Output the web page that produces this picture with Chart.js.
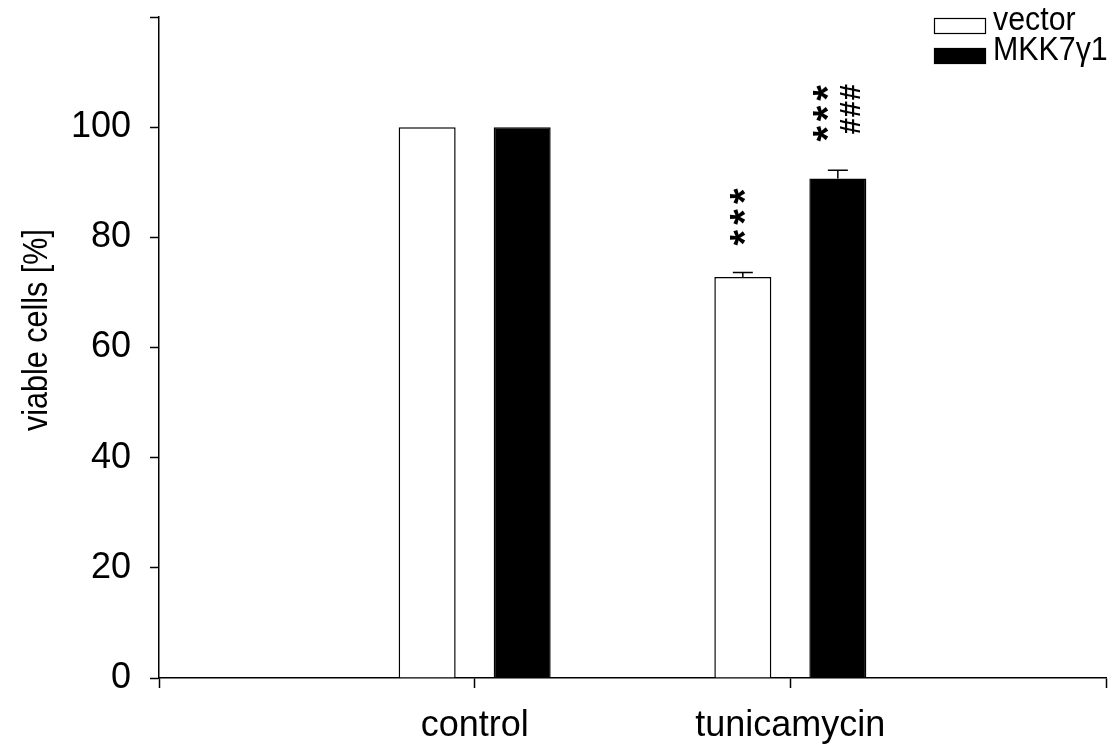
<!DOCTYPE html>
<html>
<head>
<meta charset="utf-8">
<script src="https://cdn.jsdelivr.net/npm/chart.js@4/dist/chart.umd.min.js"></script>
<style>
  html, body { margin: 0; padding: 0; background: #ffffff; }
  #wrap { width: 1115px; height: 746px; }
</style>
</head>
<body>
<div id="wrap"><canvas id="c" width="1115" height="746"></canvas></div>
<script>
// Groups on the x axis; the empty entries pad the axis ends.
const categories = ['', 'control', 'tunicamycin', ''];

// Viable cells (% of control) for each cell line.
const vectorValues = [null, 100, 72.8, null];
const mkkValues = [null, 100, 90.7, null];

// Upper error (SEM) for each bar.
const vectorErrors = [null, null, 0.8, null];
const mkkErrors = [null, null, 1.5, null];

// Significance marks above the bars.
const vectorMarks = ['', '', '***', ''];
const mkkMarks = ['', '', '***', ''];
const mkkVsVectorMarks = ['', '', '###', ''];

// Y axis ticks.
const yTicks = [0, 20, 40, 60, 80, 100, 120];
const yTickLabels = ['0', '20', '40', '60', '80', '100', ''];

const seriesNames = ['vector', 'MKK7\u03b31'];
const yTitle = 'viable cells [%]';

const FONT = '"Liberation Sans", Arial, Helvetica, sans-serif';

// Upward error whiskers with a cap.
const errorBars = {
  id: 'errorBars',
  afterDatasetsDraw(chart) {
    const ctx = chart.ctx;
    const y = chart.scales.y;
    chart.data.datasets.forEach((ds, di) => {
      const meta = chart.getDatasetMeta(di);
      (ds.errors || []).forEach((err, i) => {
        if (err == null || ds.data[i] == null) return;
        const bar = meta.data[i];
        const y0 = y.getPixelForValue(ds.data[i]);
        const y1 = y.getPixelForValue(ds.data[i] + err);
        ctx.save();
        ctx.strokeStyle = '#000';
        ctx.lineWidth = 1.5;
        ctx.beginPath();
        ctx.moveTo(bar.x, y0);
        ctx.lineTo(bar.x, y1);
        ctx.moveTo(bar.x - 10, y1);
        ctx.lineTo(bar.x + 10, y1);
        ctx.stroke();
        ctx.restore();
      });
    });
  }
};

// Rotated significance marks, one character at a time, stacked upward.
function drawMarkColumn(ctx, text, cx, bottom, font, step) {
  ctx.save();
  ctx.font = font;
  ctx.fillStyle = '#000';
  ctx.textAlign = 'left';
  ctx.textBaseline = 'alphabetic';
  for (let k = 0; k < text.length; k++) {
    const ch = text[k];
    const m = ctx.measureText(ch);
    // ink centre in glyph space
    const inkCx = (m.actualBoundingBoxRight - m.actualBoundingBoxLeft) / 2;
    const inkCy = (m.actualBoundingBoxDescent - m.actualBoundingBoxAscent) / 2;
    const inkW = m.actualBoundingBoxRight + m.actualBoundingBoxLeft;
    const centreY = bottom - inkW / 2 - k * step;
    ctx.save();
    ctx.translate(cx, centreY);
    ctx.rotate(-Math.PI / 2);
    ctx.fillText(ch, -inkCx, -inkCy);
    ctx.restore();
  }
  ctx.restore();
}

const sigMarks = {
  id: 'sigMarks',
  afterDatasetsDraw(chart, args, opts) {
    const ctx = chart.ctx;
    const y = chart.scales.y;
    opts.items.forEach(item => {
      const ds = chart.data.datasets[item.dataset];
      const meta = chart.getDatasetMeta(item.dataset);
      item.marks.forEach((txt, i) => {
        if (!txt) return;
        const top = ds.data[i] + (ds.errors[i] || 0);
        const topPx = y.getPixelForValue(top);
        const bar = meta.data[i];
        drawMarkColumn(ctx, txt, bar.x + item.dx, topPx - item.gap, item.font, item.step);
      });
    });
  }
};

// Legend stacked in the top-right corner.
const cornerLegend = {
  id: 'cornerLegend',
  afterDraw(chart, args, opts) {
    const ctx = chart.ctx;
    ctx.save();
    ctx.font = opts.size + 'px ' + FONT;
    ctx.textAlign = 'left';
    ctx.textBaseline = 'alphabetic';
    chart.data.datasets.forEach((ds, i) => {
      const bx = opts.x, by = opts.y + i * opts.rowGap;
      ctx.fillStyle = ds.backgroundColor;
      ctx.fillRect(bx, by, opts.boxW, opts.boxH);
      ctx.strokeStyle = '#000';
      ctx.lineWidth = 1.2;
      ctx.strokeRect(bx + 0.5, by + 0.5, opts.boxW - 1, opts.boxH - 1);
      ctx.fillStyle = '#000';
      ctx.save();
      ctx.translate(bx + opts.boxW + 7, by + opts.boxH - 4);
      ctx.scale(opts.squeeze, 1);
      ctx.fillText(ds.label, 0, 0);
      ctx.restore();
    });
    ctx.restore();
  }
};

// Rotated y axis title, fitted to a set length.
const yAxisTitle = {
  id: 'yAxisTitle',
  afterDraw(chart, args, opts) {
    const ctx = chart.ctx;
    ctx.save();
    ctx.font = opts.size + 'px ' + FONT;
    ctx.fillStyle = '#000';
    ctx.textAlign = 'center';
    ctx.textBaseline = 'alphabetic';
    const w = ctx.measureText(opts.text).width;
    ctx.translate(opts.x, opts.y);
    ctx.rotate(-Math.PI / 2);
    ctx.scale(opts.length / w, 1);
    ctx.fillText(opts.text, 0, 0);
    ctx.restore();
  }
};

new Chart(document.getElementById('c'), {
  type: 'bar',
  data: {
    labels: categories,
    datasets: [
      {
        label: seriesNames[0],
        data: vectorValues,
        errors: vectorErrors,
        backgroundColor: '#ffffff',
        borderColor: '#000000',
        borderWidth: 1.5,
        borderSkipped: 'start'
      },
      {
        label: seriesNames[1],
        data: mkkValues,
        errors: mkkErrors,
        backgroundColor: '#000000',
        borderColor: '#000000',
        borderWidth: 1.5,
        borderSkipped: 'start'
      }
    ]
  },
  options: {
    responsive: false,
    animation: false,
    devicePixelRatio: 1,
    categoryPercentage: 0.602,
    barPercentage: 0.6,
    layout: { padding: { top: 17, right: 9, left: 0, bottom: 0 } },
    plugins: {
      legend: { display: false },
      tooltip: { enabled: false },
      sigMarks: {
        items: [
          { dataset: 0, marks: vectorMarks, dx: -5, gap: 27, font: 'bold 40px ' + FONT, step: 20.8 },
          { dataset: 1, marks: mkkMarks, dx: -17, gap: 28.6, font: 'bold 40px ' + FONT, step: 20.4 },
          { dataset: 1, marks: mkkVsVectorMarks, dx: 12.3, gap: 36, font: 'bold 29px ' + FONT, step: 17 }
        ]
      },
      cornerLegend: { x: 934, y: 18, rowGap: 30, boxW: 52, boxH: 16, size: 33, squeeze: 0.92 },
      yAxisTitle: { text: yTitle, x: 47, y: 330, size: 35, length: 202 }
    },
    scales: {
      x: {
        type: 'category',
        offset: false,
        afterFit(scale) {
          scale.height = 68;
          scale.paddingLeft = 0; scale.paddingRight = 0;
        },
        grid: {
          offset: false,
          drawOnChartArea: false,
          drawTicks: true,
          tickLength: 10,
          tickWidth: 1.5,
          tickColor: '#000'
        },
        border: { display: true, color: '#000', width: 1.5 },
        ticks: {
          autoSkip: false,
          maxRotation: 0,
          padding: 16,
          color: '#000',
          font: { family: FONT, size: 36 }
        }
      },
      y: {
        min: 0,
        max: 120,
        afterFit(scale) {
          scale.width = 159;
          scale.paddingTop = 0; scale.paddingBottom = 0;
        },
        afterBuildTicks(scale) {
          scale.ticks = yTicks.map(v => ({ value: v }));
        },
        grid: {
          drawOnChartArea: false,
          drawTicks: true,
          tickLength: 9,
          tickWidth: 1.5,
          tickColor: '#000'
        },
        border: { display: true, color: '#000', width: 1.5 },
        ticks: {
          padding: 19,
          color: '#000',
          font: { family: FONT, size: 36 },
          callback(value) {
            const k = yTicks.indexOf(value);
            return k >= 0 ? yTickLabels[k] : '';
          }
        }
      }
    }
  },
  plugins: [errorBars, sigMarks, cornerLegend, yAxisTitle]
});
</script>
</body>
</html>
